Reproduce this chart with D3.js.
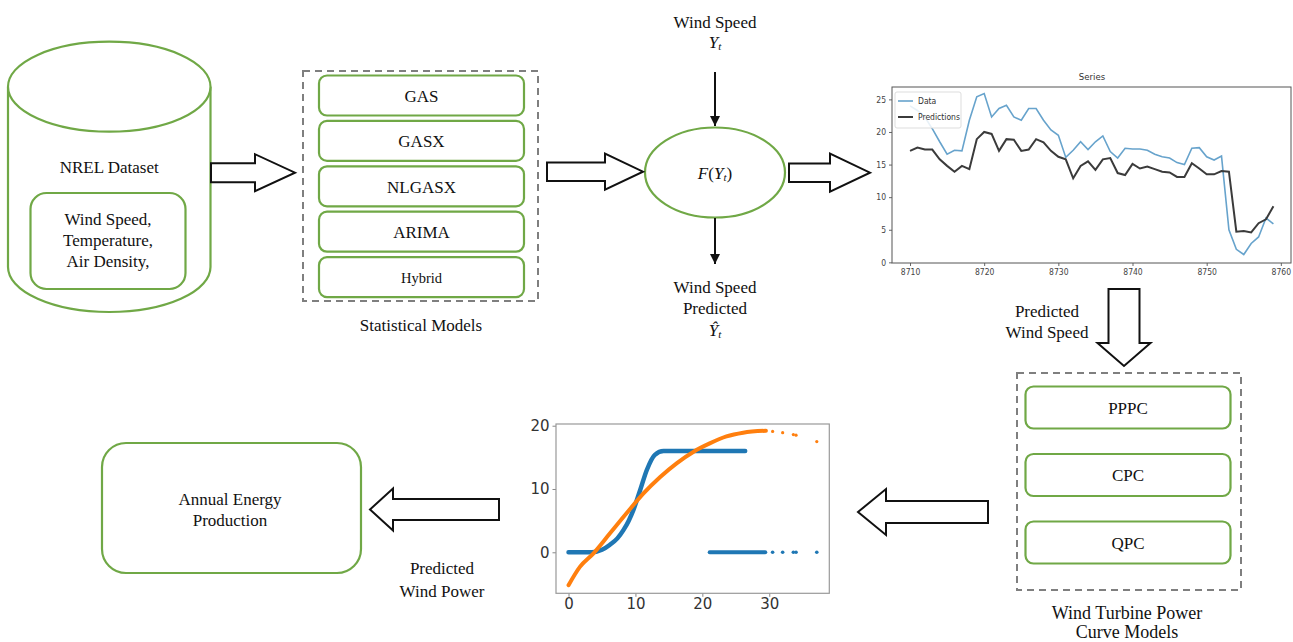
<!DOCTYPE html>
<html>
<head>
<meta charset="utf-8">
<script src="https://cdn.jsdelivr.net/npm/d3@7"></script>
<style>
  body { margin: 0; background: #fff; }
</style>
</head>
<body>
<div id="chart"></div>
<script>
// ---- series chart (top right) ----
const hours = [8710, 8711, 8712, 8713, 8714, 8715, 8716, 8717, 8718, 8719,
  8720, 8721, 8722, 8723, 8724, 8725, 8726, 8727, 8728, 8729,
  8730, 8731, 8732, 8733, 8734, 8735, 8736, 8737, 8738, 8739,
  8740, 8741, 8742, 8743, 8744, 8745, 8746, 8747, 8748, 8749,
  8750, 8751, 8752, 8753, 8754, 8755, 8756, 8757, 8758, 8759];
const observed = [24.0, 23.3, 22.3, 20.5, 18.5, 16.6, 17.2, 17.1, 21.8, 25.4,
  25.9, 22.3, 23.6, 24.1, 22.3, 21.8, 23.6, 23.6, 21.8, 20.3,
  19.5, 16.1, 17.2, 18.5, 17.3, 18.5, 19.4, 17.0, 16.0, 17.5,
  17.4, 17.4, 17.2, 16.6, 16.2, 16.0, 15.3, 15.0, 17.5, 17.6,
  16.2, 15.7, 16.3, 5.0, 2.0, 1.2, 2.9, 3.9, 6.8, 5.9];
const predicted = [17.1, 17.6, 17.3, 17.3, 15.8, 14.8, 13.9, 14.8, 14.3, 18.9,
  20.0, 19.7, 17.1, 18.9, 18.8, 17.1, 17.3, 18.9, 18.4, 17.1,
  16.2, 15.8, 12.9, 14.8, 15.5, 14.2, 15.8, 16.0, 13.7, 13.4,
  15.1, 14.4, 14.7, 14.3, 13.9, 13.8, 13.1, 13.1, 15.2, 14.4,
  13.5, 13.5, 14.0, 13.9, 4.7, 4.8, 4.6, 6.0, 6.6, 8.6];
const hourTicks = [8710, 8720, 8730, 8740, 8750, 8760];
const speedTicks = [0, 5, 10, 15, 20, 25];
const seriesNames = ["Data", "Predictions"];

// ---- power curve chart (bottom middle) ----
const empWind  = [0, 3.5, 5, 6.2, 7.3, 8.2, 9.0, 9.7, 10.7, 11.7, 12.9, 14.2, 15.7, 26.4];
const empPower = [0, 0, 0.4, 1.2, 2.2, 3.5, 5.0, 6.7, 9.8, 13.0, 15.4, 16.0, 16.0, 16.0];
const cutWind  = [21.1, 29.4];
const cutPower = [0, 0];
const fitWind  = [0, 1.7, 3.7, 6.2, 8.7, 11.2, 13.7, 16.2, 18.7, 21.1, 23.6, 26.1, 29.5];
const fitPower = [-5.2, -2.3, -0.2, 3.0, 6.2, 9.3, 11.9, 14.1, 15.9, 17.2, 18.3, 18.9, 19.2];
const sparseWind   = [30.5, 32.0, 33.6, 34.0, 37.1];
const sparseEmp    = [0, 0, 0, 0, 0];
const sparseFit    = [19.1, 18.9, 18.6, 18.5, 17.5];
const windTicks = [0, 10, 20, 30];
const powerTicks = [0, 10, 20];

// ---- diagram labels ----
const datasetVars = ["Wind Speed,", "Temperature,", "Air Density,"];
const statModels = ["GAS", "GASX", "NLGASX", "ARIMA", "Hybrid"];
const curveModels = ["PPPC", "CPC", "QPC"];

const green = "#70a846";
const serif = "'Liberation Serif', 'Times New Roman', serif";

let svg = d3.select("#chart").append("svg")
  .attr("width", 1293).attr("height", 642)
  .style("background", "#fff");

function label(x, y, txt, size, opts) {
  opts = opts || {};
  return svg.append("text")
    .attr("x", x).attr("y", y)
    .attr("text-anchor", "middle")
    .attr("dominant-baseline", "central")
    .style("font-family", serif)
    .style("font-size", size + "px")
    .style("font-style", opts.italic ? "italic" : "normal")
    .attr("fill", "#111")
    .text(txt);
}

// hollow block arrow, works in any of four directions
function blockArrow(a) {
  let pts;
  if (a.dir == "h") {
    pts = [[a.x0, a.c - a.sh/2], [a.x1, a.c - a.sh/2], [a.x1, a.c - a.hh/2], [a.tip, a.c],
           [a.x1, a.c + a.hh/2], [a.x1, a.c + a.sh/2], [a.x0, a.c + a.sh/2]];
  } else {
    pts = [[a.c - a.sh/2, a.x0], [a.c - a.sh/2, a.x1], [a.c - a.hh/2, a.x1], [a.c, a.tip],
           [a.c + a.hh/2, a.x1], [a.c + a.sh/2, a.x1], [a.c + a.sh/2, a.x0]];
  }
  svg.append("path")
    .attr("d", "M" + pts.map(p => p.join(",")).join("L") + "Z")
    .attr("fill", "#fff").attr("stroke", "#111").attr("stroke-width", 2)
    .attr("stroke-linejoin", "miter");
}

// ---------- cylinder: NREL dataset ----------
let cyl = { l: 8, r: 210.5, top: 86.7, bot: 267, ry: 45 };
let cx = (cyl.l + cyl.r) / 2, rx = (cyl.r - cyl.l) / 2;
svg.append("path")
  .attr("d", `M${cyl.l},${cyl.top} L${cyl.l},${cyl.bot} A${rx},${cyl.ry} 0 0 0 ${cyl.r},${cyl.bot} L${cyl.r},${cyl.top}`)
  .attr("fill", "#fff").attr("stroke", green).attr("stroke-width", 2.2);
svg.append("ellipse")
  .attr("cx", cx).attr("cy", cyl.top).attr("rx", rx).attr("ry", cyl.ry)
  .attr("fill", "#fff").attr("stroke", green).attr("stroke-width", 2.2);
label(cx, 167, "NREL Dataset", 17);
svg.append("rect")
  .attr("x", 30.5).attr("y", 193).attr("width", 155).attr("height", 96).attr("rx", 16)
  .attr("fill", "#fff").attr("stroke", green).attr("stroke-width", 2.2);
datasetVars.forEach((t, i) => label(108, 219 + i * 21.3, t, 17));

// ---------- statistical models ----------
svg.append("rect")
  .attr("x", 303).attr("y", 71).attr("width", 235).attr("height", 230)
  .attr("fill", "none").attr("stroke", "#7f7f7f").attr("stroke-width", 2)
  .attr("stroke-dasharray", "7,5");
statModels.forEach((m, i) => {
  let top = 75.5 + i * 45.4;
  svg.append("rect")
    .attr("x", 319).attr("y", top).attr("width", 205).attr("height", 40).attr("rx", 8)
    .attr("fill", "#fff").attr("stroke", green).attr("stroke-width", 2.2);
  label(421.5, top + 21, m, m == "Hybrid" ? 14.5 : 17);
});
label(421, 325, "Statistical Models", 17);

// ---------- F(Y_t) ----------
svg.append("ellipse")
  .attr("cx", 715).attr("cy", 172.5).attr("rx", 70).attr("ry", 45)
  .attr("fill", "#fff").attr("stroke", green).attr("stroke-width", 2.2);
let ft = svg.append("text").attr("x", 715).attr("y", 172.5)
  .attr("text-anchor", "middle").attr("dominant-baseline", "central")
  .style("font-family", serif).style("font-size", "17px").attr("fill", "#111");
ft.append("tspan").style("font-style", "italic").text("F");
ft.append("tspan").text("(");
ft.append("tspan").style("font-style", "italic").text("Y");
ft.append("tspan").style("font-style", "italic").style("font-size", "11px").attr("dy", 4).text("t");
ft.append("tspan").attr("dy", -4).text(")");

label(715, 22, "Wind Speed", 17);
let yt = svg.append("text").attr("x", 715).attr("y", 42)
  .attr("text-anchor", "middle").attr("dominant-baseline", "central")
  .style("font-family", serif).style("font-size", "17px").style("font-style", "italic").attr("fill", "#111");
yt.append("tspan").text("Y");
yt.append("tspan").style("font-size", "11px").attr("dy", 4).text("t");

label(715, 287, "Wind Speed", 17);
label(715, 308, "Predicted", 17);
let yh = svg.append("text").attr("x", 715).attr("y", 330)
  .attr("text-anchor", "middle").attr("dominant-baseline", "central")
  .style("font-family", serif).style("font-size", "17px").style("font-style", "italic").attr("fill", "#111");
yh.append("tspan").text("Ŷ");
yh.append("tspan").style("font-size", "11px").attr("dy", 4).text("t");

// thin arrows into and out of F
svg.append("defs").append("marker")
  .attr("id", "head").attr("viewBox", "0 0 10 10").attr("refX", 10).attr("refY", 5)
  .attr("markerWidth", 5).attr("markerHeight", 5).attr("orient", "auto")
  .append("path").attr("d", "M0,0L10,5L0,10Z").attr("fill", "#111");
[[72, 126], [218, 264]].forEach(s => {
  svg.append("line")
    .attr("x1", 715).attr("x2", 715).attr("y1", s[0]).attr("y2", s[1])
    .attr("stroke", "#111").attr("stroke-width", 2)
    .attr("marker-end", "url(#head)");
});

// ---------- block arrows ----------
blockArrow({ dir: "h", x0: 211, x1: 255, tip: 295, c: 172.7, sh: 19, hh: 37 });
blockArrow({ dir: "h", x0: 547, x1: 605, tip: 643, c: 171.7, sh: 18.5, hh: 36 });
blockArrow({ dir: "h", x0: 789, x1: 830, tip: 870, c: 172.7, sh: 18.5, hh: 38 });
blockArrow({ dir: "v", x0: 289, x1: 343, tip: 366, c: 1124, sh: 31, hh: 53 });
blockArrow({ dir: "h", x0: 988, x1: 886, tip: 858, c: 512, sh: 22, hh: 46 });
blockArrow({ dir: "h", x0: 499, x1: 393, tip: 370, c: 509.5, sh: 21, hh: 42 });

label(1047, 311, "Predicted", 17);
label(1047, 332, "Wind Speed", 17);
label(442, 568, "Predicted", 17);
label(442, 591, "Wind Power", 17);

// ---------- curve models ----------
svg.append("rect")
  .attr("x", 1017).attr("y", 373).attr("width", 224).attr("height", 217)
  .attr("fill", "none").attr("stroke", "#7f7f7f").attr("stroke-width", 2)
  .attr("stroke-dasharray", "7,5");
curveModels.forEach((m, i) => {
  let top = 386.5 + i * 67.5;
  svg.append("rect")
    .attr("x", 1025.5).attr("y", top).attr("width", 205).attr("height", 42).attr("rx", 8)
    .attr("fill", "#fff").attr("stroke", green).attr("stroke-width", 2.2);
  label(1128, top + 21.5, m, 17);
});
label(1127, 613, "Wind Turbine Power", 18);
label(1127, 632, "Curve Models", 18);

// ---------- annual energy production ----------
svg.append("rect")
  .attr("x", 102).attr("y", 443).attr("width", 259).attr("height", 130).attr("rx", 24)
  .attr("fill", "#fff").attr("stroke", green).attr("stroke-width", 2.2);
label(230, 499, "Annual Energy", 17);
label(230, 520, "Production", 17);

// ---------- Series chart ----------
{
  let sansC = "'DejaVu Sans Condensed', 'Liberation Sans Narrow', 'DejaVu Sans', sans-serif";
  let x = d3.scaleLinear().domain([8707.57, 8761.37]).range([892, 1291]);
  let y = d3.scaleLinear().domain([-0.1, 26.9]).range([263, 87]);
  let g = svg.append("g");

  let gx = g.append("g").attr("transform", "translate(0,263)")
    .call(d3.axisBottom(x).tickValues(hourTicks).tickSize(3).tickPadding(3).tickFormat(d3.format("d")));
  let gy = g.append("g").attr("transform", "translate(892,0)")
    .call(d3.axisLeft(y).tickValues(speedTicks).tickSize(3).tickPadding(3));
  [gx, gy].forEach(a => {
    a.select(".domain").remove();
    a.selectAll("line").attr("stroke", "#666");
    a.selectAll("text").attr("fill", "#444").style("font-family", sansC).style("font-size", "8.5px");
  });

  let line = d3.line().x((d, i) => x(hours[i])).y(d => y(d));
  g.append("path").datum(observed).attr("d", line)
    .attr("fill", "none").attr("stroke", "#67a3cc").attr("stroke-width", 1.6);
  g.append("path").datum(predicted).attr("d", line)
    .attr("fill", "none").attr("stroke", "#3b3b3b").attr("stroke-width", 2);

  g.append("rect").attr("x", 892).attr("y", 87).attr("width", 399).attr("height", 176)
    .attr("fill", "none").attr("stroke", "#555").attr("stroke-width", 1);

  g.append("text").attr("x", 1092).attr("y", 76).attr("text-anchor", "middle")
    .attr("dominant-baseline", "central").attr("fill", "#333")
    .style("font-family", sansC).style("font-size", "9.5px").text("Series");

  // legend
  g.append("rect").attr("x", 895).attr("y", 92).attr("width", 66).attr("height", 36).attr("rx", 2)
    .attr("fill", "#fff").attr("fill-opacity", 0.85).attr("stroke", "#ddd");
  let legColors = ["#67a3cc", "#3b3b3b"];
  seriesNames.forEach((s, i) => {
    let ly = 101 + i * 16;
    g.append("line").attr("x1", 898).attr("x2", 913).attr("y1", ly).attr("y2", ly)
      .attr("stroke", legColors[i]).attr("stroke-width", i ? 2 : 1.6);
    g.append("text").attr("x", 918).attr("y", ly).attr("dominant-baseline", "central")
      .attr("fill", "#333").style("font-family", sansC).style("font-size", "8.5px").text(s);
  });
}

// ---------- power curve chart ----------
{
  let x = d3.scaleLinear().domain([-1.87, 38.97]).range([556, 829.3]);
  let y = d3.scaleLinear().domain([-6.48, 20.27]).range([593.3, 424]);
  let g = svg.append("g");

  let gx = g.append("g").attr("transform", "translate(0,593.3)")
    .call(d3.axisBottom(x).tickValues(windTicks).tickSize(3.5).tickPadding(2));
  let gy = g.append("g").attr("transform", "translate(556,0)")
    .call(d3.axisLeft(y).tickValues(powerTicks).tickSize(3.5).tickPadding(3));
  [gx, gy].forEach(a => {
    a.select(".domain").remove();
    a.selectAll("line").attr("stroke", "#888");
    a.selectAll("text").attr("fill", "#333")
      .style("font-family", "'DejaVu Sans', sans-serif").style("font-size", "15px");
  });

  let curve = (ws, ps) => d3.line().curve(d3.curveMonotoneX)
    .x((d, i) => x(ws[i])).y(d => y(d))(ps);

  g.append("path").attr("d", curve(empWind, empPower))
    .attr("fill", "none").attr("stroke", "#1f77b4").attr("stroke-width", 4.5)
    .attr("stroke-linecap", "round").attr("stroke-linejoin", "round");
  g.append("path").attr("d", curve(cutWind, cutPower))
    .attr("fill", "none").attr("stroke", "#1f77b4").attr("stroke-width", 4)
    .attr("stroke-linecap", "round");
  g.append("path").attr("d", curve(fitWind, fitPower))
    .attr("fill", "none").attr("stroke", "#ff7f0e").attr("stroke-width", 4)
    .attr("stroke-linecap", "round").attr("stroke-linejoin", "round");

  g.selectAll(".sb").data(sparseEmp).enter().append("circle")
    .attr("cx", (d, i) => x(sparseWind[i])).attr("cy", d => y(d)).attr("r", 1.8)
    .attr("fill", "#1f77b4");
  g.selectAll(".so").data(sparseFit).enter().append("circle")
    .attr("cx", (d, i) => x(sparseWind[i])).attr("cy", d => y(d)).attr("r", 1.6)
    .attr("fill", "#ff7f0e");

  g.append("rect").attr("x", 556).attr("y", 424).attr("width", 273.3).attr("height", 169.3)
    .attr("fill", "none").attr("stroke", "#999").attr("stroke-width", 1.2);
}
</script>
</body>
</html>
